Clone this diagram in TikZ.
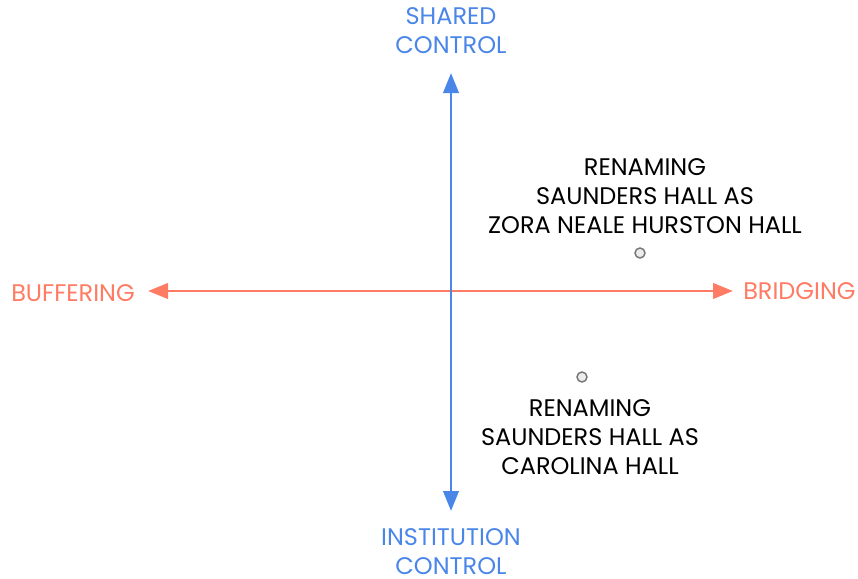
\documentclass[tikz,border=0pt]{standalone}
\usepackage{fontspec}
\setmainfont{Poppins}
\usetikzlibrary{arrows.meta}
\definecolor{axorange}{HTML}{FF7B63}
\definecolor{axblue}{HTML}{4A86E8}
\definecolor{dotgray}{HTML}{777777}
\tikzset{
  px/.style={x=0.75pt,y=-0.75pt},
  axisH/.style={draw=axorange,line width=2.2pt,-{Triangle[length=15pt,width=11.5pt]}},
  axisV/.style={draw=axblue,line width=2.2pt,-{Triangle[length=15pt,width=11.5pt]}},
  orangelabel/.style={text=axorange,font=\fontsize{18pt}{21.75pt}\selectfont,inner sep=0pt},
  bluelabel/.style={text=axblue,font=\fontsize{18pt}{21.75pt}\selectfont,inner sep=0pt,align=center},
  blacklabel/.style={text=black,font=\fontsize{18pt}{21.75pt}\selectfont,inner sep=0pt,align=center},
  dot/.style={circle,draw=dotgray,fill=gray!15,line width=1.1pt,minimum size=7.5pt,inner sep=0pt},
}
\begin{document}
\begin{tikzpicture}[px]
\useasboundingbox (0,0) rectangle (858,579);
\coordinate (c) at (451,291);
\coordinate (lt) at (148,291);
\coordinate (rt) at (733,291);
\coordinate (tp) at (451,73);
\coordinate (bt) at (451,511);
\draw[axisH] (c) -- (lt);
\draw[axisH] (c) -- (rt);
\draw[axisV] (c) -- (tp);
\draw[axisV] (c) -- (bt);
\node[bluelabel] (shared) at (451,31) {SHARED\\CONTROL};
\node[bluelabel] (inst) at (451,552) {INSTITUTION\\CONTROL};
\node[orangelabel,anchor=west] (buf) at (11,293) {BUFFERING};
\node[orangelabel,anchor=west] (bri) at (743,291) {BRIDGING};
\node[blacklabel] (zora) at (645,196) {RENAMING\\SAUNDERS HALL AS\\ZORA NEALE HURSTON HALL};
\node[dot] (d1) at (640,253) {};
\node[blacklabel] (carol) at (590,437) {RENAMING\\SAUNDERS HALL AS\\CAROLINA HALL};
\node[dot] (d2) at (582,377) {};
\end{tikzpicture}
\end{document}
